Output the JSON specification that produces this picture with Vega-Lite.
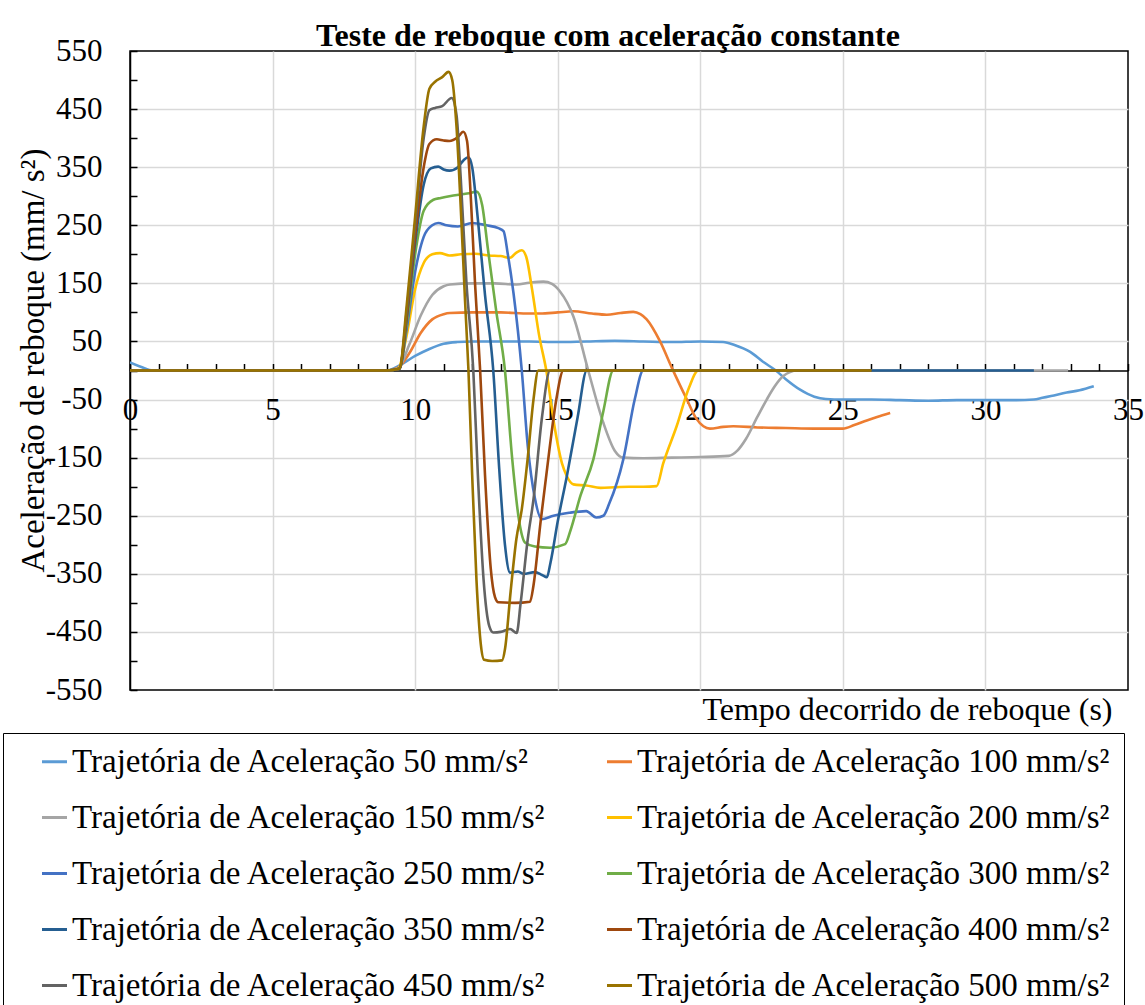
{
  "$schema": "https://vega.github.io/schema/vega-lite/v6.json",
  "autosize": "none",
  "padding": {"left": 130, "top": 51, "right": 17, "bottom": 315},
  "width": 998,
  "height": 639,
  "background": "white",
  "config": {
    "font": "Liberation Serif",
    "view": {"stroke": "#000000", "strokeWidth": 1.5}
  },
  "title": {
    "text": "Teste de reboque com aceleração constante",
    "font": "Liberation Serif",
    "fontSize": 32,
    "fontWeight": "bold",
    "color": "#000000",
    "anchor": "middle",
    "dx": -21,
    "offset": -18
  },
  "data": {
    "values": [
      {"a":50,"t":0,"v":14},{"a":50,"t":0.4,"v":6},{"a":50,"t":0.8,"v":0},{"a":50,"t":9.0,"v":0},{"a":50,"t":9.5,"v":10},{"a":50,"t":10.0,"v":25},{"a":50,"t":10.5,"v":37},{"a":50,"t":11.0,"v":46},{"a":50,"t":11.47,"v":49},{"a":50,"t":12.0,"v":50},{"a":50,"t":13.0,"v":50},{"a":50,"t":14.0,"v":50},{"a":50,"t":15.0,"v":49},{"a":50,"t":16.0,"v":50},{"a":50,"t":17.0,"v":51},{"a":50,"t":18.0,"v":50},{"a":50,"t":19.0,"v":49},{"a":50,"t":20.0,"v":50},{"a":50,"t":20.8,"v":49},{"a":50,"t":21.2,"v":44},{"a":50,"t":21.75,"v":32},{"a":50,"t":22.2,"v":15},{"a":50,"t":22.65,"v":0},{"a":50,"t":23.0,"v":-15},{"a":50,"t":23.5,"v":-33},{"a":50,"t":24.0,"v":-45},{"a":50,"t":24.4,"v":-49},{"a":50,"t":25.0,"v":-50},{"a":50,"t":26.0,"v":-50},{"a":50,"t":27.0,"v":-51},{"a":50,"t":28.0,"v":-52},{"a":50,"t":29.0,"v":-51},{"a":50,"t":30.0,"v":-51},{"a":50,"t":31.0,"v":-51},{"a":50,"t":31.7,"v":-50},{"a":50,"t":32.0,"v":-47},{"a":50,"t":32.3,"v":-44},{"a":50,"t":32.85,"v":-38},{"a":50,"t":33.3,"v":-34},{"a":50,"t":33.8,"v":-27},

      {"a":100,"t":0,"v":0},{"a":100,"t":9.0,"v":0},{"a":100,"t":9.4,"v":5},{"a":100,"t":9.8,"v":30},{"a":100,"t":10.2,"v":65},{"a":100,"t":10.6,"v":88},{"a":100,"t":11.0,"v":97},{"a":100,"t":11.22,"v":99},{"a":100,"t":12.0,"v":100},{"a":100,"t":13.0,"v":100},{"a":100,"t":14.0,"v":98},{"a":100,"t":14.38,"v":98},{"a":100,"t":15.0,"v":100},{"a":100,"t":15.55,"v":102},{"a":100,"t":16.2,"v":98},{"a":100,"t":16.72,"v":96},{"a":100,"t":17.2,"v":99},{"a":100,"t":17.65,"v":101},{"a":100,"t":17.9,"v":97},{"a":100,"t":18.12,"v":88},{"a":100,"t":18.59,"v":50},{"a":100,"t":19.0,"v":5},{"a":100,"t":19.53,"v":-50},{"a":100,"t":19.85,"v":-82},{"a":100,"t":20.11,"v":-96},{"a":100,"t":20.34,"v":-100},{"a":100,"t":20.8,"v":-97},{"a":100,"t":21.16,"v":-96},{"a":100,"t":22.0,"v":-98},{"a":100,"t":23.0,"v":-99},{"a":100,"t":24.0,"v":-100},{"a":100,"t":25.0,"v":-100},{"a":100,"t":25.4,"v":-94},{"a":100,"t":25.84,"v":-86},{"a":100,"t":26.2,"v":-80},{"a":100,"t":26.66,"v":-73},

      {"a":150,"t":0,"v":0},{"a":150,"t":9.0,"v":0},{"a":150,"t":9.4,"v":4},{"a":150,"t":9.8,"v":45},{"a":150,"t":10.2,"v":95},{"a":150,"t":10.6,"v":130},{"a":150,"t":11.0,"v":145},{"a":150,"t":11.22,"v":148},{"a":150,"t":12.0,"v":150},{"a":150,"t":12.8,"v":150},{"a":150,"t":13.56,"v":148},{"a":150,"t":14.0,"v":151},{"a":150,"t":14.5,"v":153},{"a":150,"t":14.8,"v":149},{"a":150,"t":15.08,"v":136},{"a":150,"t":15.55,"v":93},{"a":150,"t":16.07,"v":0},{"a":150,"t":16.6,"v":-90},{"a":150,"t":17.0,"v":-138},{"a":150,"t":17.3,"v":-150},{"a":150,"t":18.0,"v":-151},{"a":150,"t":19.0,"v":-150},{"a":150,"t":20.0,"v":-149},{"a":150,"t":21.0,"v":-147},{"a":150,"t":21.3,"v":-138},{"a":150,"t":21.6,"v":-118},{"a":150,"t":22.0,"v":-80},{"a":150,"t":22.33,"v":-50},{"a":150,"t":22.6,"v":-28},{"a":150,"t":22.9,"v":-10},{"a":150,"t":23.4,"v":0},{"a":150,"t":32.9,"v":0},

      {"a":200,"t":0,"v":0},{"a":200,"t":9.0,"v":0},{"a":200,"t":9.4,"v":3},{"a":200,"t":9.7,"v":60},{"a":200,"t":10.0,"v":140},{"a":200,"t":10.3,"v":185},{"a":200,"t":10.6,"v":200},{"a":200,"t":10.87,"v":202},{"a":200,"t":11.2,"v":198},{"a":200,"t":11.6,"v":200},{"a":200,"t":12.1,"v":201},{"a":200,"t":12.6,"v":198},{"a":200,"t":13.0,"v":197},{"a":200,"t":13.33,"v":194},{"a":200,"t":13.55,"v":203},{"a":200,"t":13.74,"v":207},{"a":200,"t":13.9,"v":195},{"a":200,"t":14.1,"v":140},{"a":200,"t":14.35,"v":60},{"a":200,"t":14.6,"v":0},{"a":200,"t":14.9,"v":-100},{"a":200,"t":15.15,"v":-160},{"a":200,"t":15.32,"v":-182},{"a":200,"t":15.55,"v":-196},{"a":200,"t":16.0,"v":-198},{"a":200,"t":16.5,"v":-202},{"a":200,"t":17.0,"v":-201},{"a":200,"t":17.5,"v":-200},{"a":200,"t":18.0,"v":-200},{"a":200,"t":18.47,"v":-199},{"a":200,"t":18.7,"v":-160},{"a":200,"t":19.17,"v":-96},{"a":200,"t":19.6,"v":-30},{"a":200,"t":19.93,"v":0},{"a":200,"t":26,"v":0},

      {"a":250,"t":0,"v":0},{"a":250,"t":9.0,"v":0},{"a":250,"t":9.45,"v":3},{"a":250,"t":9.7,"v":70},{"a":250,"t":10.0,"v":170},{"a":250,"t":10.3,"v":230},{"a":250,"t":10.6,"v":250},{"a":250,"t":10.81,"v":254},{"a":250,"t":11.1,"v":250},{"a":250,"t":11.5,"v":248},{"a":250,"t":12.0,"v":254},{"a":250,"t":12.5,"v":250},{"a":250,"t":12.92,"v":245},{"a":250,"t":13.1,"v":240},{"a":250,"t":13.25,"v":200},{"a":250,"t":13.45,"v":133},{"a":250,"t":13.74,"v":0},{"a":250,"t":13.95,"v":-130},{"a":250,"t":14.2,"v":-220},{"a":250,"t":14.44,"v":-256},{"a":250,"t":14.85,"v":-250},{"a":250,"t":15.4,"v":-245},{"a":250,"t":16.0,"v":-242},{"a":250,"t":16.35,"v":-253},{"a":250,"t":16.6,"v":-250},{"a":250,"t":16.8,"v":-230},{"a":250,"t":17.3,"v":-153},{"a":250,"t":17.7,"v":-50},{"a":250,"t":18.0,"v":0},{"a":250,"t":26,"v":0},

      {"a":300,"t":0,"v":0},{"a":300,"t":9.0,"v":0},{"a":300,"t":9.45,"v":3},{"a":300,"t":9.7,"v":80},{"a":300,"t":10.0,"v":200},{"a":300,"t":10.3,"v":275},{"a":300,"t":10.64,"v":294},{"a":300,"t":10.9,"v":297},{"a":300,"t":11.2,"v":300},{"a":300,"t":11.6,"v":303},{"a":300,"t":11.9,"v":305},{"a":300,"t":12.16,"v":308},{"a":300,"t":12.35,"v":285},{"a":300,"t":12.55,"v":210},{"a":300,"t":12.85,"v":100},{"a":300,"t":13.15,"v":0},{"a":300,"t":13.4,"v":-150},{"a":300,"t":13.65,"v":-260},{"a":300,"t":13.85,"v":-296},{"a":300,"t":14.2,"v":-303},{"a":300,"t":14.73,"v":-305},{"a":300,"t":15.26,"v":-299},{"a":300,"t":15.45,"v":-275},{"a":300,"t":15.8,"v":-215},{"a":300,"t":16.25,"v":-153},{"a":300,"t":16.6,"v":-70},{"a":300,"t":16.95,"v":0},{"a":300,"t":26,"v":0},

      {"a":350,"t":0,"v":0},{"a":350,"t":9.0,"v":0},{"a":350,"t":9.45,"v":3},{"a":350,"t":9.7,"v":90},{"a":350,"t":10.0,"v":220},{"a":350,"t":10.3,"v":320},{"a":350,"t":10.55,"v":348},{"a":350,"t":10.81,"v":351},{"a":350,"t":11.0,"v":346},{"a":350,"t":11.2,"v":344},{"a":350,"t":11.5,"v":350},{"a":350,"t":11.7,"v":362},{"a":350,"t":11.87,"v":367},{"a":350,"t":12.0,"v":350},{"a":350,"t":12.2,"v":260},{"a":350,"t":12.45,"v":130},{"a":350,"t":12.74,"v":0},{"a":350,"t":12.95,"v":-170},{"a":350,"t":13.15,"v":-300},{"a":350,"t":13.33,"v":-348},{"a":350,"t":13.6,"v":-346},{"a":350,"t":13.8,"v":-350},{"a":350,"t":14.2,"v":-347},{"a":350,"t":14.45,"v":-352},{"a":350,"t":14.62,"v":-356},{"a":350,"t":14.75,"v":-330},{"a":350,"t":15.0,"v":-260},{"a":350,"t":15.32,"v":-182},{"a":350,"t":15.7,"v":-80},{"a":350,"t":16.02,"v":0},{"a":350,"t":31.7,"v":0},

      {"a":400,"t":0,"v":0},{"a":400,"t":9.0,"v":0},{"a":400,"t":9.45,"v":3},{"a":400,"t":9.7,"v":90},{"a":400,"t":10.0,"v":230},{"a":400,"t":10.3,"v":350},{"a":400,"t":10.5,"v":390},{"a":400,"t":10.76,"v":398},{"a":400,"t":11.0,"v":396},{"a":400,"t":11.2,"v":395},{"a":400,"t":11.5,"v":402},{"a":400,"t":11.69,"v":411},{"a":400,"t":11.82,"v":395},{"a":400,"t":11.95,"v":300},{"a":400,"t":12.1,"v":150},{"a":400,"t":12.28,"v":0},{"a":400,"t":12.45,"v":-180},{"a":400,"t":12.65,"v":-340},{"a":400,"t":12.8,"v":-390},{"a":400,"t":12.92,"v":-399},{"a":400,"t":13.5,"v":-400},{"a":400,"t":14.03,"v":-398},{"a":400,"t":14.15,"v":-370},{"a":400,"t":14.4,"v":-260},{"a":400,"t":14.7,"v":-140},{"a":400,"t":14.95,"v":-50},{"a":400,"t":15.2,"v":0},{"a":400,"t":26,"v":0},

      {"a":450,"t":0,"v":0},{"a":450,"t":9.0,"v":0},{"a":450,"t":9.45,"v":3},{"a":450,"t":9.7,"v":100},{"a":450,"t":10.0,"v":250},{"a":450,"t":10.3,"v":400},{"a":450,"t":10.5,"v":448},{"a":450,"t":10.7,"v":452},{"a":450,"t":10.95,"v":455},{"a":450,"t":11.28,"v":469},{"a":450,"t":11.45,"v":440},{"a":450,"t":11.6,"v":330},{"a":450,"t":11.8,"v":150},{"a":450,"t":12.04,"v":0},{"a":450,"t":12.2,"v":-180},{"a":450,"t":12.4,"v":-360},{"a":450,"t":12.6,"v":-440},{"a":450,"t":12.74,"v":-451},{"a":450,"t":13.0,"v":-450},{"a":450,"t":13.33,"v":-445},{"a":450,"t":13.56,"v":-452},{"a":450,"t":13.7,"v":-400},{"a":450,"t":13.95,"v":-290},{"a":450,"t":14.15,"v":-222},{"a":450,"t":14.45,"v":-80},{"a":450,"t":14.73,"v":0},{"a":450,"t":26,"v":0},

      {"a":500,"t":0,"v":0},{"a":500,"t":9.0,"v":0},{"a":500,"t":9.45,"v":3},{"a":500,"t":9.7,"v":110},{"a":500,"t":10.0,"v":265},{"a":500,"t":10.3,"v":420},{"a":500,"t":10.5,"v":485},{"a":500,"t":10.7,"v":497},{"a":500,"t":10.95,"v":505},{"a":500,"t":11.17,"v":514},{"a":500,"t":11.3,"v":500},{"a":500,"t":11.45,"v":420},{"a":500,"t":11.6,"v":280},{"a":500,"t":11.75,"v":120},{"a":500,"t":11.87,"v":0},{"a":500,"t":12.0,"v":-180},{"a":500,"t":12.15,"v":-360},{"a":500,"t":12.3,"v":-470},{"a":500,"t":12.42,"v":-498},{"a":500,"t":12.7,"v":-500},{"a":500,"t":13.05,"v":-499},{"a":500,"t":13.15,"v":-480},{"a":500,"t":13.35,"v":-380},{"a":500,"t":13.55,"v":-290},{"a":500,"t":13.74,"v":-239},{"a":500,"t":13.95,"v":-150},{"a":500,"t":14.15,"v":-50},{"a":500,"t":14.32,"v":0},{"a":500,"t":26,"v":0}
    ]
  },
  "mark": {"type": "line", "interpolate": "monotone", "strokeWidth": 2.6, "clip": true},
  "encoding": {
    "x": {
      "field": "t",
      "type": "quantitative",
      "scale": {"domain": [0, 35], "nice": false, "zero": false},
      "axis": {
        "title": "Tempo decorrido de reboque (s)",
        "titleFont": "Liberation Serif",
        "titleFontSize": 32,
        "titleFontWeight": "normal",
        "titleColor": "#000000",
        "titleAlign": "right",
        "titleBaseline": "alphabetic",
        "titleX": 982,
        "titleY": 349,
        "offset": -319.5,
        "values": [0,1,2,3,4,5,6,7,8,9,10,11,12,13,14,15,16,17,18,19,20,21,22,23,24,25,26,27,28,29,30,31,32,33,34,35],
        "labelExpr": "datum.value % 5 == 0 ? '' + datum.value : ''",
        "labelFont": "Liberation Serif",
        "labelFontSize": 31,
        "labelColor": "#000000",
        "labelPadding": 32,
        "labelFlush": false,
        "labelOverlap": false,
        "tickSize": -7,
        "tickColor": "#000000",
        "tickWidth": 1.5,
        "domainColor": "#000000",
        "domainWidth": 1.5,
        "grid": true,
        "gridColor": "#D9D9D9",
        "gridWidth": 1.5,
        "gridOpacity": {"condition": {"test": "datum.value % 5 == 0 && datum.value > 0 && datum.value < 35", "value": 1}, "value": 0}
      }
    },
    "y": {
      "field": "v",
      "type": "quantitative",
      "scale": {"domain": [-550, 550], "nice": false, "zero": false},
      "axis": {
        "title": "Aceleração de reboque (mm/ s²)",
        "titleFont": "Liberation Serif",
        "titleFontSize": 33,
        "titleFontWeight": "normal",
        "titleColor": "#000000",
        "titleAngle": -90,
        "titleAlign": "center",
        "titleBaseline": "middle",
        "titleX": -97,
        "titleY": 309,
        "values": [-550,-500,-450,-400,-350,-300,-250,-200,-150,-100,-50,0,50,100,150,200,250,300,350,400,450,500,550],
        "labelExpr": "abs(datum.value) % 100 == 50 ? '' + datum.value : ''",
        "labelFont": "Liberation Serif",
        "labelFontSize": 31,
        "labelColor": "#000000",
        "labelPadding": 35,
        "labelFlush": false,
        "labelOverlap": false,
        "tickSize": -7,
        "tickColor": "#000000",
        "tickWidth": 1.5,
        "domainColor": "#000000",
        "domainWidth": 1.5,
        "grid": true,
        "gridColor": "#D9D9D9",
        "gridWidth": 1.5,
        "gridOpacity": {"condition": {"test": "abs(datum.value) % 100 == 50 && abs(datum.value) < 550", "value": 1}, "value": 0}
      }
    },
    "color": {
      "field": "a",
      "type": "ordinal",
      "scale": {
        "domain": [50,100,150,200,250,300,350,400,450,500],
        "range": ["#5B9BD5","#ED7D31","#A5A5A5","#FFC000","#4472C4","#70AD47","#255E91","#9E480E","#636363","#997300"]
      },
      "legend": {
        "title": null,
        "orient": "none",
        "legendX": -127,
        "legendY": 682,
        "columns": 2,
        "direction": "horizontal",
        "strokeColor": "#000000",
        "padding": 12,
        "symbolType": "stroke",
        "symbolSize": 625,
        "symbolStrokeWidth": 3,
        "symbolOffset": 23,
        "labelOffset": 1,
        "labelExpr": "'Trajetória de Aceleração ' + datum.label + ' mm/s²'",
        "labelFont": "Liberation Serif",
        "labelFontSize": 33,
        "labelColor": "#000000",
        "labelLimit": 0,
        "rowPadding": 22,
        "columnPadding": 33
      }
    }
  }
}
